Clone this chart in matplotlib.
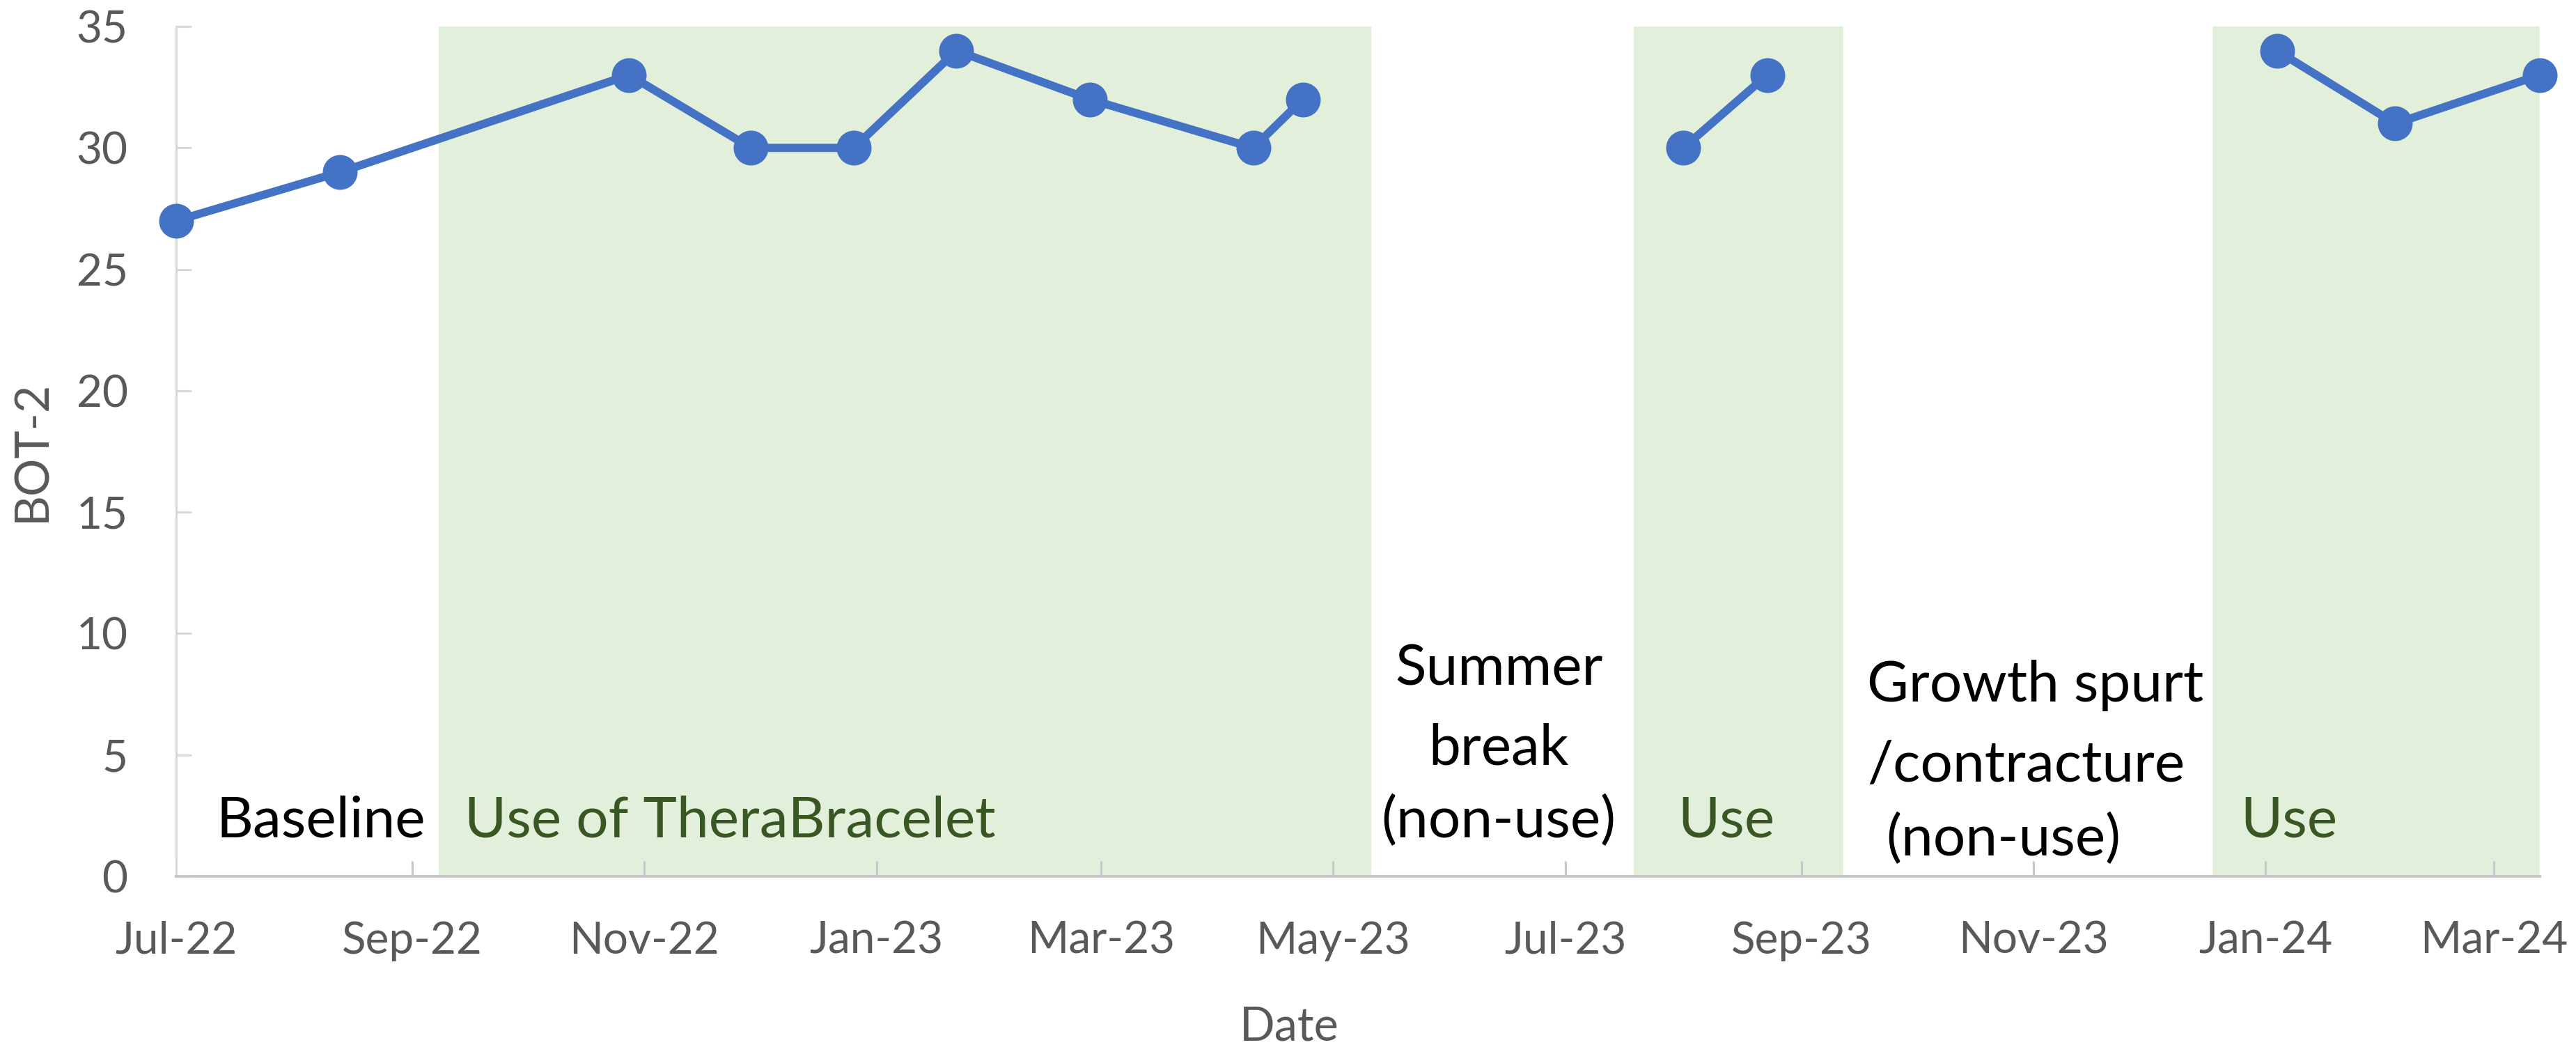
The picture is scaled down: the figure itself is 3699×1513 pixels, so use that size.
import matplotlib
matplotlib.use("Agg")
import matplotlib.pyplot as plt
import matplotlib.dates as mdates
import numpy as np
import pandas as pd

# ---- data ----
dates = ["2022-07-01", "2022-08-13", "2022-10-28", "2022-11-29", "2022-12-26",
         "2023-01-22", "2023-02-26", "2023-04-10", "2023-04-23",
         "2023-08-01", "2023-08-23",
         "2024-01-04", "2024-02-04", "2024-03-13"]
scores = [27, 29, 33, 30, 30, 34, 32, 30, 32, 30, 33, 34, 31, 33]
segments = [0, 0, 0, 0, 0, 0, 0, 0, 0, 1, 1, 2, 2, 2]

band_starts = ["2022-09-08", "2023-07-19", "2023-12-18"]
band_ends = ["2023-05-11", "2023-09-12", "2024-03-13"]

x_start = "2022-07-01"
x_end = "2024-03-13"
y_ticks = [0, 5, 10, 15, 20, 25, 30, 35]

# ---- style ----
plt.rcParams['font.family'] = ['Lato', 'DejaVu Sans']
LINE = "#4472C4"
BAND = "#E2EFDA"
GREEN_TXT = "#385723"
GRAY_TXT = "#595959"

W, H = 3699, 1513
fig = plt.figure(figsize=(W / 100, H / 100), dpi=100)
ax = fig.add_axes([253 / W, 1 - 1258 / H, (3647 - 253) / W, (1258 - 38) / H])

d = pd.to_datetime(dates)
s = np.array(scores)
seg = np.array(segments)

for b0, b1 in zip(band_starts, band_ends):
    ax.axvspan(pd.Timestamp(b0), pd.Timestamp(b1), ymin=0, ymax=1,
               color=BAND, lw=0, zorder=0)

for k in np.unique(seg):
    m = seg == k
    ax.plot(d[m], s[m], color=LINE, lw=8.5, marker='o', ms=35,
            solid_capstyle='round', clip_on=False, zorder=5)

ax.set_xlim(pd.Timestamp(x_start), pd.Timestamp(x_end))
ax.set_ylim(0, 35)
ax.set_yticks(y_ticks)
ax.xaxis.set_major_locator(mdates.MonthLocator(bymonth=[1, 3, 5, 7, 9, 11]))
ax.xaxis.set_major_formatter(mdates.DateFormatter('%b-%y'))

for sp in ['top', 'right']:
    ax.spines[sp].set_visible(False)
ax.spines['left'].set_color('#D9D9D9')
ax.spines['left'].set_linewidth(2.2)
ax.spines['bottom'].set_color('#C8C8C8')
ax.spines['bottom'].set_linewidth(3)

ax.tick_params(axis='y', direction='in', length=16, width=2.2, color='#D9D9D9',
               labelsize=46, labelcolor=GRAY_TXT, pad=50)
ax.tick_params(axis='x', direction='in', length=16, width=2.2, color='#C8C8C8',
               labelsize=46, labelcolor=GRAY_TXT, pad=46)

fig.text(46 / W, 1 - 647 / H, "BOT-2", rotation=90, ha='center', va='center',
         fontsize=49, color=GRAY_TXT)
fig.text(1851 / W, 1 - 1493 / H, "Date", ha='center', va='baseline',
         fontsize=48, color=GRAY_TXT)

TS = 59
def fx(px):
    return (px - 253) / (3647 - 253)
def fy(py):
    return (1258 - py) / (1258 - 38)

ax.text(fx(311), fy(1202), "Baseline", transform=ax.transAxes, ha='left',
        va='baseline', fontsize=TS, color='black')
ax.text(fx(667), fy(1202), "Use of TheraBracelet", transform=ax.transAxes,
        ha='left', va='baseline', fontsize=TS, color=GREEN_TXT)
for line, yb in zip(["Summer", "break", "(non-use)"], [983, 1097, 1202]):
    ax.text(fx(2152), fy(yb), line, transform=ax.transAxes, ha='center',
            va='baseline', fontsize=TS, color='black')
ax.text(fx(2409), fy(1202), "Use", transform=ax.transAxes, ha='left',
        va='baseline', fontsize=TS, color=GREEN_TXT)
for line, xl, yb in zip(["Growth spurt", "/contracture", "(non-use)"],
                        [2681, 2681, 2708], [1007, 1122, 1228]):
    ax.text(fx(xl), fy(yb), line, transform=ax.transAxes, ha='left',
            va='baseline', fontsize=TS, color='black')
ax.text(fx(3217), fy(1202), "Use", transform=ax.transAxes, ha='left',
        va='baseline', fontsize=TS, color=GREEN_TXT)

fig.savefig("out.png", dpi=100, facecolor='white')
